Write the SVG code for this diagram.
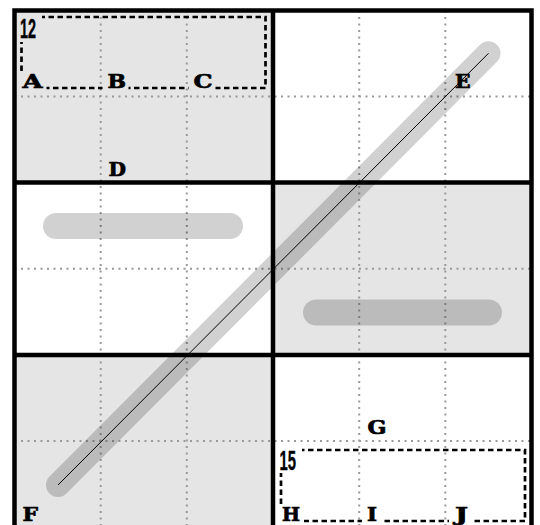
<svg xmlns="http://www.w3.org/2000/svg" width="540" height="525" viewBox="0 0 540 525">
<style>
.cell-g{fill:#e5e5e5}
.cell-w{fill:#ffffff}
.dot{stroke:#999999;stroke-width:2;stroke-dasharray:2 4.5;fill:none}
.dash{stroke:#000;stroke-width:2.7;stroke-dasharray:5.5 3.5;fill:none}
.band{stroke:#000;stroke-opacity:0.18;stroke-linecap:round;fill:none}
.lbl{font-family:"DejaVu Serif","Liberation Serif",serif;font-weight:bold;font-size:19px;fill:#000;stroke:#000;stroke-width:0.7}
.num{font-family:"Liberation Sans","DejaVu Sans",sans-serif;font-weight:bold;font-size:28px;fill:#000;stroke:#000;stroke-width:0.4}
.border{stroke:#000;stroke-width:4.5;fill:none}
</style>
<rect x="0" y="0" width="540" height="525" fill="#ffffff"/>
<g id="cells">
<rect class="cell-g" x="14.5" y="10.5" width="258.5" height="172"/>
<rect class="cell-w" x="273" y="10.5" width="258.5" height="172"/>
<rect class="cell-w" x="14.5" y="182.5" width="258.5" height="172.5"/>
<rect class="cell-g" x="273" y="182.5" width="258.5" height="172.5"/>
<rect class="cell-g" x="14.5" y="355" width="258.5" height="172.5"/>
<rect class="cell-w" x="273" y="355" width="258.5" height="172.5"/>
</g>
<g id="grid">
<line class="dot" x1="100.7" y1="10.5" x2="100.7" y2="527"/>
<line class="dot" x1="186.8" y1="10.5" x2="186.8" y2="527"/>
<line class="dot" x1="359.2" y1="10.5" x2="359.2" y2="527"/>
<line class="dot" x1="445.3" y1="10.5" x2="445.3" y2="527"/>
<line class="dot" x1="14.5" y1="96.6" x2="531.5" y2="96.6"/>
<line class="dot" x1="14.5" y1="268.8" x2="531.5" y2="268.8"/>
<line class="dot" x1="14.5" y1="441" x2="531.5" y2="441"/>
</g>
<g id="region-12">
<rect class="dash" x="21.5" y="17" width="244" height="71"/>
<rect class="cell-g" x="16" y="13" width="26" height="29"/>
<text class="num" x="20" y="38" textLength="16" lengthAdjust="spacingAndGlyphs">12</text>
</g>
<g id="region-15">
<rect class="dash" x="281" y="450" width="244" height="71"/>
<rect class="cell-w" x="276" y="446" width="26" height="27"/>
<text class="num" x="279.5" y="470" textLength="16.5" lengthAdjust="spacingAndGlyphs">15</text>
</g>
<g id="bar-1"><line class="band" x1="56" y1="226" x2="230" y2="226" stroke-width="26"/></g>
<g id="bar-2"><line class="band" x1="316" y1="312.5" x2="489" y2="312.5" stroke-width="26"/></g>
<g id="connectors">
<line class="band" x1="58" y1="485" x2="488.5" y2="53.3" stroke-width="24"/>
<line x1="58" y1="485" x2="488.5" y2="53.3" stroke="#000" stroke-width="1"/>
</g>
<g id="A"><rect class="cell-g" x="17.5" y="72" width="29" height="19"/><text class="lbl" x="22.5" y="88" textLength="20" lengthAdjust="spacingAndGlyphs">A</text></g>
<g id="B"><rect class="cell-g" x="102.5" y="72" width="26" height="19"/><text class="lbl" x="107.5" y="88" textLength="18.5" lengthAdjust="spacingAndGlyphs">B</text></g>
<g id="C"><rect class="cell-g" x="188.5" y="72" width="27" height="19"/><text class="lbl" x="193.5" y="88" textLength="19" lengthAdjust="spacingAndGlyphs">C</text></g>
<g id="D"><text class="lbl" x="108.5" y="175.5" textLength="17.5" lengthAdjust="spacingAndGlyphs">D</text></g>
<g id="E"><text class="lbl" x="455" y="87.5" textLength="15.5" lengthAdjust="spacingAndGlyphs">E</text></g>
<g id="F"><text class="lbl" x="22.5" y="521" textLength="15.5" lengthAdjust="spacingAndGlyphs">F</text></g>
<g id="G"><text class="lbl" x="367.5" y="434" textLength="19" lengthAdjust="spacingAndGlyphs">G</text></g>
<g id="H"><rect class="cell-w" x="277" y="505" width="27" height="19"/><text class="lbl" x="282" y="521" textLength="18" lengthAdjust="spacingAndGlyphs">H</text></g>
<g id="I"><rect class="cell-w" x="362" y="505" width="22" height="19"/><text class="lbl" x="367" y="521" textLength="10" lengthAdjust="spacingAndGlyphs">I</text></g>
<g id="J"><rect class="cell-w" x="449" y="505" width="24" height="19"/><text class="lbl" x="455" y="521" textLength="13" lengthAdjust="spacingAndGlyphs">J</text></g>
<g id="borders">
<rect class="border" x="14.5" y="10.5" width="517" height="517"/>
<line class="border" x1="273" y1="10.5" x2="273" y2="527.5"/>
<line class="border" x1="14.5" y1="182.5" x2="531.5" y2="182.5"/>
<line class="border" x1="14.5" y1="355" x2="531.5" y2="355"/>
</g>
</svg>
